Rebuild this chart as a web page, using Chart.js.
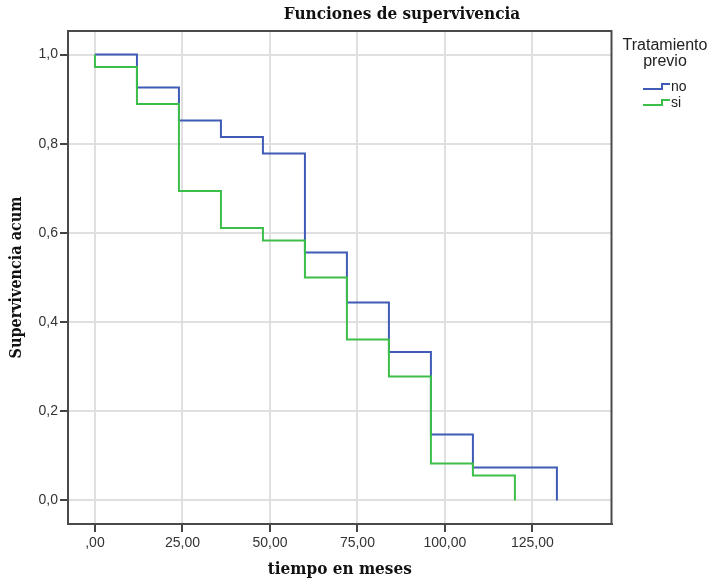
<!DOCTYPE html>
<html>
<head>
<meta charset="utf-8">
<title>Funciones de supervivencia</title>
<script src="https://cdn.jsdelivr.net/npm/chart.js@4/dist/chart.umd.min.js"></script>
<style>
  html, body { margin: 0; padding: 0; background: #fff; }
  #wrap { width: 714px; height: 581px; }
</style>
</head>
<body>
<div id="wrap"><canvas id="survChart" width="714" height="581"></canvas></div>
<script>
// Tiempo en meses y supervivencia acumulada por grupo (Kaplan-Meier)
const tiemposNo = [0, 12, 24, 36, 48, 60, 72, 84, 96, 108, 132];
const supervNo  = [1.000, 0.926, 0.852, 0.815, 0.778, 0.556, 0.444, 0.333, 0.148, 0.074, 0.000];

const tiemposSi = [0, 0, 12, 24, 36, 48, 60, 72, 84, 96, 108, 120];
const supervSi  = [1.000, 0.972, 0.889, 0.694, 0.611, 0.583, 0.500, 0.361, 0.278, 0.083, 0.056, 0.000];

const grupos = ['no', 'si'];
const coloresGrupo = ['#3f5bb5', '#3cbf48'];

const xTicks = [0, 25, 50, 75, 100, 125];
const xTickLabels = [',00', '25,00', '50,00', '75,00', '100,00', '125,00'];
const yTicks = [0, 0.2, 0.4, 0.6, 0.8, 1.0];
const yTickLabels = ['0,0', '0,2', '0,4', '0,6', '0,8', '1,0'];

const SERIF = '"DejaVu Serif Condensed", "DejaVu Serif", serif';
const SANS = '"Liberation Sans", Arial, sans-serif';

function puntos(xs, ys) {
    return xs.map((x, i) => ({ x: x, y: ys[i] }));
}

// Marco completo del área, título y leyenda con icono escalonado
const marcoPlugin = {
    id: 'marco',
    afterDraw(chart) {
        const { ctx, chartArea: a } = chart;
        ctx.save();
        ctx.strokeStyle = '#4a4a4a';
        ctx.lineWidth = 2;
        ctx.strokeRect(a.left, a.top, a.right - a.left, a.bottom - a.top);

        ctx.fillStyle = '#111';
        ctx.font = 'bold 17px ' + SERIF;
        ctx.textAlign = 'center';
        ctx.textBaseline = 'middle';
        ctx.fillText('Funciones de supervivencia', 402, 15);

        ctx.fillStyle = '#222';
        ctx.font = '16px ' + SANS;
        ctx.textBaseline = 'alphabetic';
        ctx.fillText('Tratamiento', 665, 50);
        ctx.fillText('previo', 665, 66);

        ctx.textAlign = 'left';
        ctx.font = '14px ' + SANS;
        grupos.forEach((g, i) => {
            const base = 89 + i * 16;
            ctx.strokeStyle = coloresGrupo[i];
            ctx.lineWidth = 2;
            ctx.beginPath();
            ctx.moveTo(643, base);
            ctx.lineTo(662, base);
            ctx.lineTo(662, base - 5);
            ctx.lineTo(670, base - 5);
            ctx.stroke();
            ctx.fillText(g, 671, base + 2);
        });
        ctx.restore();
    }
};

const ctx = document.getElementById('survChart');

new Chart(ctx, {
    type: 'line',
    data: {
        datasets: [
            {
                label: grupos[0],
                data: puntos(tiemposNo, supervNo),
                borderColor: coloresGrupo[0],
                order: 1
            },
            {
                label: grupos[1],
                data: puntos(tiemposSi, supervSi),
                borderColor: coloresGrupo[1],
                order: 0
            }
        ]
    },
    options: {
        responsive: false,
        animation: false,
        layout: { padding: { top: 31, right: 102.5, left: 0, bottom: 0 } },
        elements: {
            // horizontal hasta el siguiente tiempo, luego el salto vertical
            line: { stepped: 'before', borderWidth: 2, fill: false, tension: 0 },
            point: { radius: 0, hoverRadius: 0 }
        },
        plugins: {
            legend: { display: false },
            tooltip: { enabled: false },
            title: { display: false }
        },
        scales: {
            x: {
                type: 'linear',
                min: -7.7,
                max: 147.6,
                afterBuildTicks: s => { s.ticks = xTicks.map(v => ({ value: v })); },
                afterFit: s => { s.height = 57; },
                grid: { color: '#e0e0e0', lineWidth: 2, tickLength: 8, tickColor: '#444', tickWidth: 2 },
                border: { color: '#4a4a4a', width: 2 },
                ticks: {
                    padding: 3,
                    color: '#333',
                    font: { family: SANS, size: 14 },
                    maxRotation: 0,
                    callback: v => xTickLabels[xTicks.indexOf(v)]
                },
                title: {
                    display: true,
                    text: 'tiempo en meses',
                    color: '#111',
                    font: { family: SERIF, size: 17, weight: 'bold' },
                    padding: { top: 0, bottom: 1 }
                }
            },
            y: {
                min: -0.0527,
                max: 1.0527,
                afterBuildTicks: s => { s.ticks = yTicks.map(v => ({ value: v })); },
                afterFit: s => { s.width = 68; },
                grid: { color: '#e0e0e0', lineWidth: 2, tickLength: 8, tickColor: '#444', tickWidth: 2 },
                border: { color: '#4a4a4a', width: 2 },
                ticks: {
                    padding: 2,
                    color: '#333',
                    font: { family: SANS, size: 14 },
                    callback: v => yTickLabels[yTicks.indexOf(v)]
                },
                title: {
                    display: true,
                    text: 'Supervivencia acum',
                    color: '#111',
                    font: { family: SERIF, size: 16, weight: 'bold' },
                    padding: { top: 7, bottom: 0 }
                }
            }
        }
    },
    plugins: [marcoPlugin]
});
</script>
</body>
</html>
